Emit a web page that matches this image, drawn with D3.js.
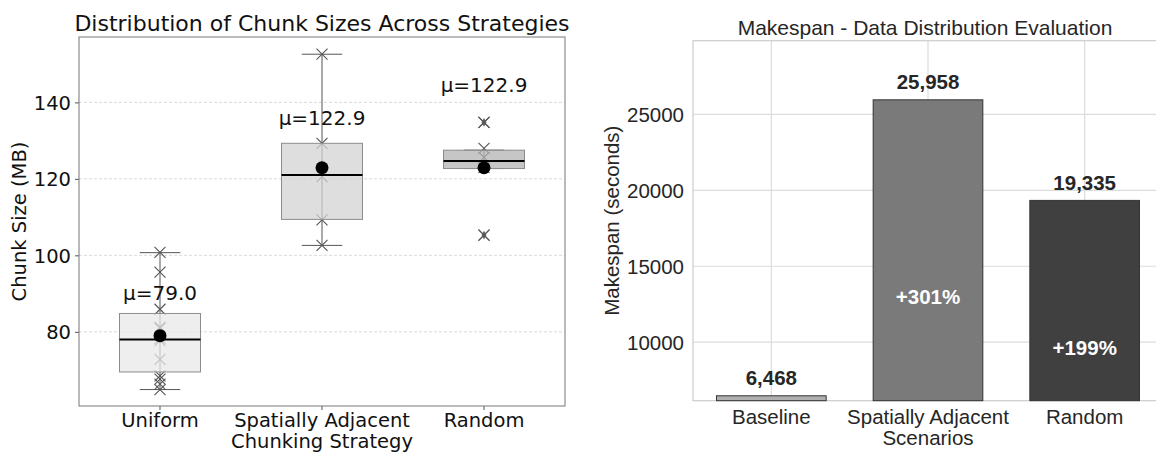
<!DOCTYPE html>
<html>
<head>
<meta charset="utf-8">
<script src="https://cdn.jsdelivr.net/npm/d3@7"></script>
<style>
  body { margin: 0; background: #fff; }
  svg { display: block; }
</style>
</head>
<body>
<div id="chart"></div>
<script>
// left panel: chunk size distribution
const strategies = ["Uniform", "Spatially Adjacent", "Random"];
const chunkPoints = [
    [100.8, 95.6, 85.9, 81.2, 80.9, 78.3, 77.7, 72.8, 68.5, 67.6, 66.3, 64.9],
    [152.6, 129.3, 120.6, 109.3, 102.6],
    [134.8, 128.0, 125.6, 123.0, 105.3]
];
const boxQ1 = [69.5, 109.4, 122.7];
const boxMedian = [78.0, 121.0, 124.7];
const boxQ3 = [84.8, 129.3, 127.5];
const whiskerLow = [64.9, 102.6, 122.7];
const whiskerHigh = [100.7, 152.6, 127.5];
const fliers = [[], [], [134.8, 105.3]];
const means = [79.0, 122.9, 122.9];
const muLabelAt = [88.2, 134.1, 142.8];
const chunkTicks = [80, 100, 120, 140];

// right panel: makespan
const scenarios = [["Baseline"], ["Spatially Adjacent", "Scenarios"], ["Random"]];
const makespan = [6468, 25958, 19335];
const makespanTicks = [10000, 15000, 20000, 25000];

const svg = d3.select("#chart").append("svg")
    .attr("width", 1156)
    .attr("height", 452);

// ---------- left: box plots ----------
const L = { left: 79, right: 565, top: 37, bottom: 406 };
const lfont = "DejaVu Sans, sans-serif";

const x1 = d3.scaleBand().domain(d3.range(strategies.length)).range([L.left, L.right]).padding(0);
const y1 = d3.scaleLinear().domain([60.6, 157.1]).range([L.bottom, L.top]);
const boxFill = d3.scaleOrdinal().domain(d3.range(3)).range(["#e8e8e8", "#d3d3d3", "#b3b3b3"]);

const left = svg.append("g").style("font-family", lfont);

// grid
left.append("g").selectAll("line")
    .data(chunkTicks)
    .enter().append("line")
    .attr("x1", L.left).attr("x2", L.right)
    .attr("y1", d => y1(d)).attr("y2", d => y1(d))
    .attr("stroke", "#cfcfcf")
    .attr("stroke-width", 0.8)
    .attr("stroke-dasharray", "3,2");

const xAxis1 = left.append("g")
    .attr("transform", `translate(0,${L.bottom})`)
    .call(d3.axisBottom(x1).tickSize(4).tickFormat(i => strategies[i]));
xAxis1.select(".domain").remove();
xAxis1.selectAll("line").attr("stroke", "#555");
xAxis1.selectAll("text")
    .attr("y", 21)
    .attr("dy", 0)
    .attr("fill", "#111")
    .style("font-size", "19.5px")
    .style("font-family", lfont);

const yAxis1 = left.append("g")
    .attr("transform", `translate(${L.left},0)`)
    .call(d3.axisLeft(y1).tickValues(chunkTicks).tickSize(4).tickPadding(4));
yAxis1.select(".domain").remove();
yAxis1.selectAll("line").attr("stroke", "#555");
yAxis1.selectAll("text")
    .attr("dy", "0.36em")
    .attr("fill", "#111")
    .style("font-size", "19.5px")
    .style("font-family", lfont);

const groups = left.append("g").selectAll("g")
    .data(strategies)
    .enter().append("g")
    .attr("transform", (d, i) => `translate(${x1(i) + x1.bandwidth() / 2},0)`);

const boxW = x1.bandwidth() * 0.5;
const capW = boxW * 0.5;
const xMark = "M-5.5,-5.5L5.5,5.5M-5.5,5.5L5.5,-5.5";

// whisker lines
groups.append("line")
    .attr("x1", 0).attr("x2", 0)
    .attr("y1", (d, i) => y1(whiskerHigh[i]))
    .attr("y2", (d, i) => y1(whiskerLow[i]))
    .attr("stroke", "#555").attr("stroke-width", 1);
groups.selectAll(".cap")
    .data((d, i) => [whiskerLow[i], whiskerHigh[i]])
    .enter().append("line")
    .attr("x1", -capW / 2).attr("x2", capW / 2)
    .attr("y1", d => y1(d)).attr("y2", d => y1(d))
    .attr("stroke", "#555").attr("stroke-width", 1);

// raw points (behind the box)
groups.selectAll(".pt")
    .data((d, i) => chunkPoints[i])
    .enter().append("path")
    .attr("d", xMark)
    .attr("transform", d => `translate(0,${y1(d)})`)
    .attr("fill", "none")
    .attr("stroke", "#555")
    .attr("stroke-width", 1.1);

// box
groups.append("rect")
    .attr("x", -boxW / 2)
    .attr("width", boxW)
    .attr("y", (d, i) => y1(boxQ3[i]))
    .attr("height", (d, i) => y1(boxQ1[i]) - y1(boxQ3[i]))
    .attr("fill", (d, i) => boxFill(i))
    .attr("fill-opacity", 0.75)
    .attr("stroke", "#8c8c8c")
    .attr("stroke-width", 1);

// median
groups.append("line")
    .attr("x1", -boxW / 2).attr("x2", boxW / 2)
    .attr("y1", (d, i) => y1(boxMedian[i]))
    .attr("y2", (d, i) => y1(boxMedian[i]))
    .attr("stroke", "#000").attr("stroke-width", 2);

// fliers
const flierG = groups.selectAll(".fl")
    .data((d, i) => fliers[i])
    .enter().append("g")
    .attr("transform", d => `translate(0,${y1(d)})`);
flierG.append("path")
    .attr("d", d3.symbol(d3.symbolDiamond, 22))
    .attr("fill", "#666");
flierG.append("path")
    .attr("d", xMark)
    .attr("fill", "none")
    .attr("stroke", "#555")
    .attr("stroke-width", 1.1);

// mean dot
groups.append("circle")
    .attr("cy", (d, i) => y1(means[i]))
    .attr("r", 6.5)
    .attr("fill", "#000");

// mean labels
groups.append("text")
    .attr("y", (d, i) => y1(muLabelAt[i]))
    .attr("text-anchor", "middle")
    .attr("fill", "#111")
    .style("font-size", "20px")
    .text((d, i) => "μ=" + means[i].toFixed(1));

// frame
left.append("rect")
    .attr("x", L.left).attr("y", L.top)
    .attr("width", L.right - L.left).attr("height", L.bottom - L.top)
    .attr("fill", "none")
    .attr("stroke", "#777").attr("stroke-width", 1);

left.append("text")
    .attr("x", (L.left + L.right) / 2)
    .attr("y", 31)
    .attr("text-anchor", "middle")
    .attr("fill", "#111")
    .style("font-size", "22px")
    .text("Distribution of Chunk Sizes Across Strategies");

left.append("text")
    .attr("x", (L.left + L.right) / 2)
    .attr("y", 448)
    .attr("text-anchor", "middle")
    .attr("fill", "#111")
    .style("font-size", "19.5px")
    .text("Chunking Strategy");

left.append("text")
    .attr("transform", `translate(26,${(L.top + L.bottom) / 2}) rotate(-90)`)
    .attr("text-anchor", "middle")
    .attr("fill", "#111")
    .style("font-size", "19.5px")
    .text("Chunk Size (MB)");

// ---------- right: makespan bars ----------
const R = { left: 693, right: 1163, top: 40.7, bottom: 400.7 };
const rfont = "Liberation Sans, Arial, sans-serif";
const ink = "#262626";

const x2 = d3.scaleBand().domain(d3.range(makespan.length)).range([R.left, R.right]).padding(0);
const y2 = d3.scaleLinear()
    .domain([d3.min(makespan) * 0.95, d3.max(makespan) * 1.15])
    .range([R.bottom, R.top]);
const barFill = d3.scaleOrdinal().domain(d3.range(3)).range(["#b0b0b0", "#7a7a7a", "#404040"]);

const right = svg.append("g").style("font-family", rfont);

right.append("g").selectAll("line")
    .data(makespanTicks)
    .enter().append("line")
    .attr("x1", R.left).attr("x2", R.right)
    .attr("y1", d => y2(d)).attr("y2", d => y2(d))
    .attr("stroke", "#dcdcdc").attr("stroke-width", 1.2);
right.append("g").selectAll("line")
    .data(d3.range(makespan.length))
    .enter().append("line")
    .attr("x1", d => x2(d) + x2.bandwidth() / 2)
    .attr("x2", d => x2(d) + x2.bandwidth() / 2)
    .attr("y1", R.top).attr("y2", R.bottom)
    .attr("stroke", "#dcdcdc").attr("stroke-width", 1.2);

right.append("rect")
    .attr("x", R.left).attr("y", R.top)
    .attr("width", R.right - R.left).attr("height", R.bottom - R.top)
    .attr("fill", "none")
    .attr("stroke", "#cccccc").attr("stroke-width", 1.2);

const yAxis2 = right.append("g")
    .attr("transform", `translate(${R.left},0)`)
    .call(d3.axisLeft(y2).tickValues(makespanTicks).tickSize(0).tickPadding(9).tickFormat(d3.format("d")));
yAxis2.select(".domain").remove();
yAxis2.selectAll("text")
    .attr("dy", "0.36em")
    .attr("fill", ink)
    .style("font-size", "20.5px")
    .style("font-family", rfont);

const barW = x2.bandwidth() * 0.7;
const bars = right.append("g").selectAll("g")
    .data(makespan)
    .enter().append("g")
    .attr("transform", (d, i) => `translate(${x2(i) + x2.bandwidth() / 2},0)`);

bars.append("rect")
    .attr("x", -barW / 2)
    .attr("width", barW)
    .attr("y", d => y2(d))
    .attr("height", d => R.bottom - y2(d))
    .attr("fill", (d, i) => barFill(i))
    .attr("stroke", "#333").attr("stroke-width", 1);

bars.append("text")
    .attr("y", d => y2(d) - 10.5)
    .attr("text-anchor", "middle")
    .attr("fill", ink)
    .style("font-size", "20.5px")
    .style("font-weight", "bold")
    .text(d => d3.format(",")(d));

bars.filter((d, i) => i > 0).append("text")
    .attr("y", d => y2(d / 2))
    .attr("dy", "0.36em")
    .attr("text-anchor", "middle")
    .attr("fill", "#fff")
    .style("font-size", "20.5px")
    .style("font-weight", "bold")
    .text(d => "+" + Math.round((d - makespan[0]) / makespan[0] * 100) + "%");

// x tick labels (multi-line)
const xl = right.append("g").selectAll("text")
    .data(scenarios)
    .enter().append("text")
    .attr("x", (d, i) => x2(i) + x2.bandwidth() / 2)
    .attr("y", 423.5)
    .attr("text-anchor", "middle")
    .attr("fill", ink)
    .style("font-size", "20.5px");
xl.selectAll("tspan")
    .data(d => d)
    .enter().append("tspan")
    .attr("x", function () { return d3.select(this.parentNode).attr("x"); })
    .attr("dy", (d, j) => j === 0 ? 0 : 21.5)
    .text(d => d);

right.append("text")
    .attr("x", (R.left + R.right) / 2 - 3)
    .attr("y", 35)
    .attr("text-anchor", "middle")
    .attr("fill", ink)
    .style("font-size", "21px")
    .text("Makespan - Data Distribution Evaluation");

right.append("text")
    .attr("transform", `translate(619,${(R.top + R.bottom) / 2}) rotate(-90)`)
    .attr("text-anchor", "middle")
    .attr("fill", ink)
    .style("font-size", "20.5px")
    .text("Makespan (seconds)");
</script>
</body>
</html>
